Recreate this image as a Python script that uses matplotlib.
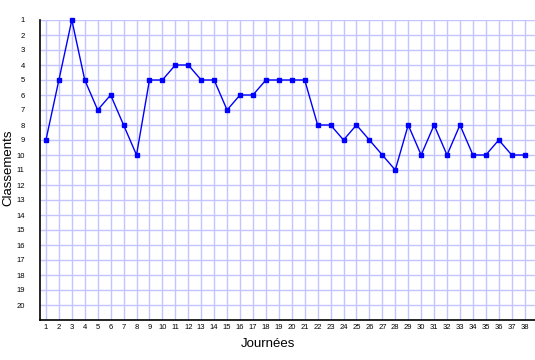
import numpy as np
import matplotlib
matplotlib.use("Agg")
import matplotlib.pyplot as plt

journees = list(range(1, 39))
classements = [9, 5, 1, 5, 7, 6, 8, 10, 5, 5, 4, 4, 5, 5, 7, 6, 6, 5, 5, 5, 5,
               8, 8, 9, 8, 9, 10, 11, 8, 10, 8, 10, 8, 10, 10, 9, 10, 10]
rangs = list(range(1, 21))

plt.rcParams['font.family'] = ['Liberation Sans', 'DejaVu Sans']

fig = plt.figure(figsize=(5.35, 3.6), dpi=100)
ax = fig.add_axes([40 / 535, 40 / 360, 495 / 535, 300 / 360])

ax.plot(journees, classements, color="#0000ff", lw=1, marker="s", ms=2.3,
        clip_on=False, zorder=3)

ax.set_xlim(0.54, 38.8)
ax.set_ylim(21, 1)
ax.set_xticks(journees)
ax.set_yticks(rangs)
ax.tick_params(length=0, labelsize=5.5, pad=3)
ax.tick_params(axis="y", pad=11)
ax.grid(True, color="#c4c4ff", lw=1)
ax.set_axisbelow(True)

for s in ["top", "right"]:
    ax.spines[s].set_visible(False)
ax.spines["left"].set_linewidth(1.2)
ax.spines["bottom"].set_linewidth(1.2)

fig.text(268 / 535, 1 - 344 / 360, "Journées", ha="center", va="center", fontsize=9.5)
fig.text(8 / 535, 1 - 168 / 360, "Classements", ha="center", va="center",
         rotation=90, fontsize=9.5)

fig.savefig("out.png", dpi=100)
